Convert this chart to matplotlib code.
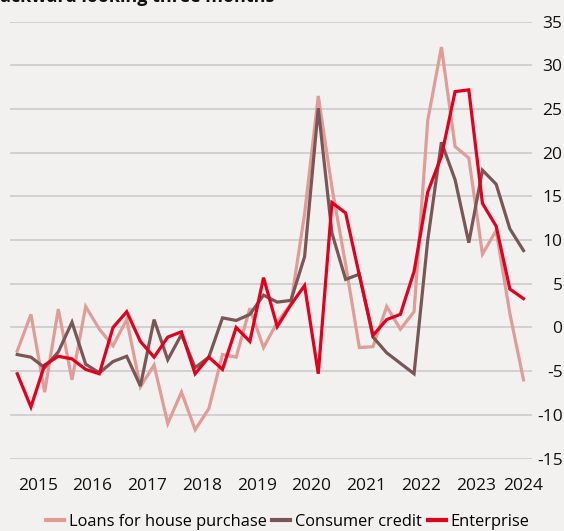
import matplotlib
matplotlib.use("Agg")
import matplotlib.pyplot as plt
from matplotlib.lines import Line2D

# ---- data (quarterly survey, backward looking three months) ----
loans = [-2.7, 1.5, -7.4, 2.1, -6.0, 2.4, -0.2, -2.1, 0.9, -6.8,
         -4.3, -11.0, -7.4, -11.7, -9.3, -3.1, -3.4, 2.2, -2.3, 0.6,
         2.7, 13.0, 26.5, 16.0, 7.2, -2.3, -2.2, 2.4, -0.2, 1.8,
         23.7, 32.1, 20.7, 19.4, 8.4, 11.1, 1.6, -6.0]
consumer = [-3.1, -3.4, -4.6, -2.8, 0.6, -4.2, -5.2, -3.9, -3.3, -6.7,
            0.9, -3.7, -0.8, -4.6, -3.4, 1.1, 0.8, 1.5, 3.7, 2.9,
            3.1, 8.1, 25.1, 10.8, 5.5, 6.1, -1.1, -2.9, -4.1, -5.3,
            10.0, 21.2, 16.9, 9.7, 18.0, 16.4, 11.3, 8.8]
enterprise = [-5.3, -9.1, -4.3, -3.3, -3.6, -4.8, -5.3, 0.0, 1.8, -1.6,
              -3.4, -1.1, -0.5, -5.3, -3.4, -4.8, 0.0, -1.6, 5.7, 0.1,
              2.6, 4.8, -5.3, 14.3, 13.1, 6.0, -0.9, 0.9, 1.5, 6.4,
              15.5, 19.6, 27.0, 27.2, 14.2, 11.6, 4.4, 3.3]
year_labels = ["2015", "2016", "2017", "2018", "2019", "2020", "2021", "2022", "2023", "2024"]
year_pos = [1.5, 5.5, 9.5, 13.5, 17.5, 21.5, 25.5, 29.5, 33.5, 37.0]
y_ticks = [-15, -10, -5, 0, 5, 10, 15, 20, 25, 30, 35]
series_names = ["Loans for house purchase", "Consumer credit", "Enterprise"]
colors = ["#e09c98", "#7b5656", "#e2001f"]

plt.rcParams['font.family'] = ['Open Sans', 'DejaVu Sans']
BG = "#f3f1ef"

W, H = 564, 531
fig = plt.figure(figsize=(W / 100, H / 100), dpi=100, facecolor=BG)
ax = fig.add_axes([10 / W, 1 - 458.5 / H, 522 / W, (458.5 - 21.7) / H], facecolor=BG)

x = list(range(len(loans)))
for vals, c in zip([loans, consumer, enterprise], colors):
    ax.plot(x, vals, color=c, lw=2.3, solid_joinstyle='miter', zorder=3)

ax.set_xlim(-0.53, 37.62)
ax.set_ylim(-15, 35)
ax.set_yticks(y_ticks)
ax.set_yticklabels([str(v) for v in y_ticks])
ax.yaxis.tick_right()
ax.tick_params(axis='y', length=0, pad=22, labelsize=12.5, colors='#111111')
for lab in ax.get_yticklabels():
    lab.set_horizontalalignment('right')
ax.set_xticks(year_pos)
ax.set_xticklabels(year_labels)
ax.tick_params(axis='x', length=0, pad=14, labelsize=12.5, colors='#111111')
ax.grid(axis='y', color='#cbcbcb', lw=1.2, zorder=0)
for s in ax.spines.values():
    s.set_visible(False)

handles = [Line2D([0], [0], color=c, lw=3) for c in colors]
fig.legend(handles, series_names, loc='center', bbox_to_anchor=(0.51, 1 - 522 / H),
           ncol=3, frameon=False, fontsize=11.8, handlelength=1.1, handletextpad=0.3,
           columnspacing=0.35, borderaxespad=0)

fig.text(-12 / W, 1 - 2 / H, "Backward looking three months", fontsize=13,
         fontweight='bold', va='baseline', ha='left', color='#111111')

fig.savefig("out.png", dpi=100, facecolor=BG)
